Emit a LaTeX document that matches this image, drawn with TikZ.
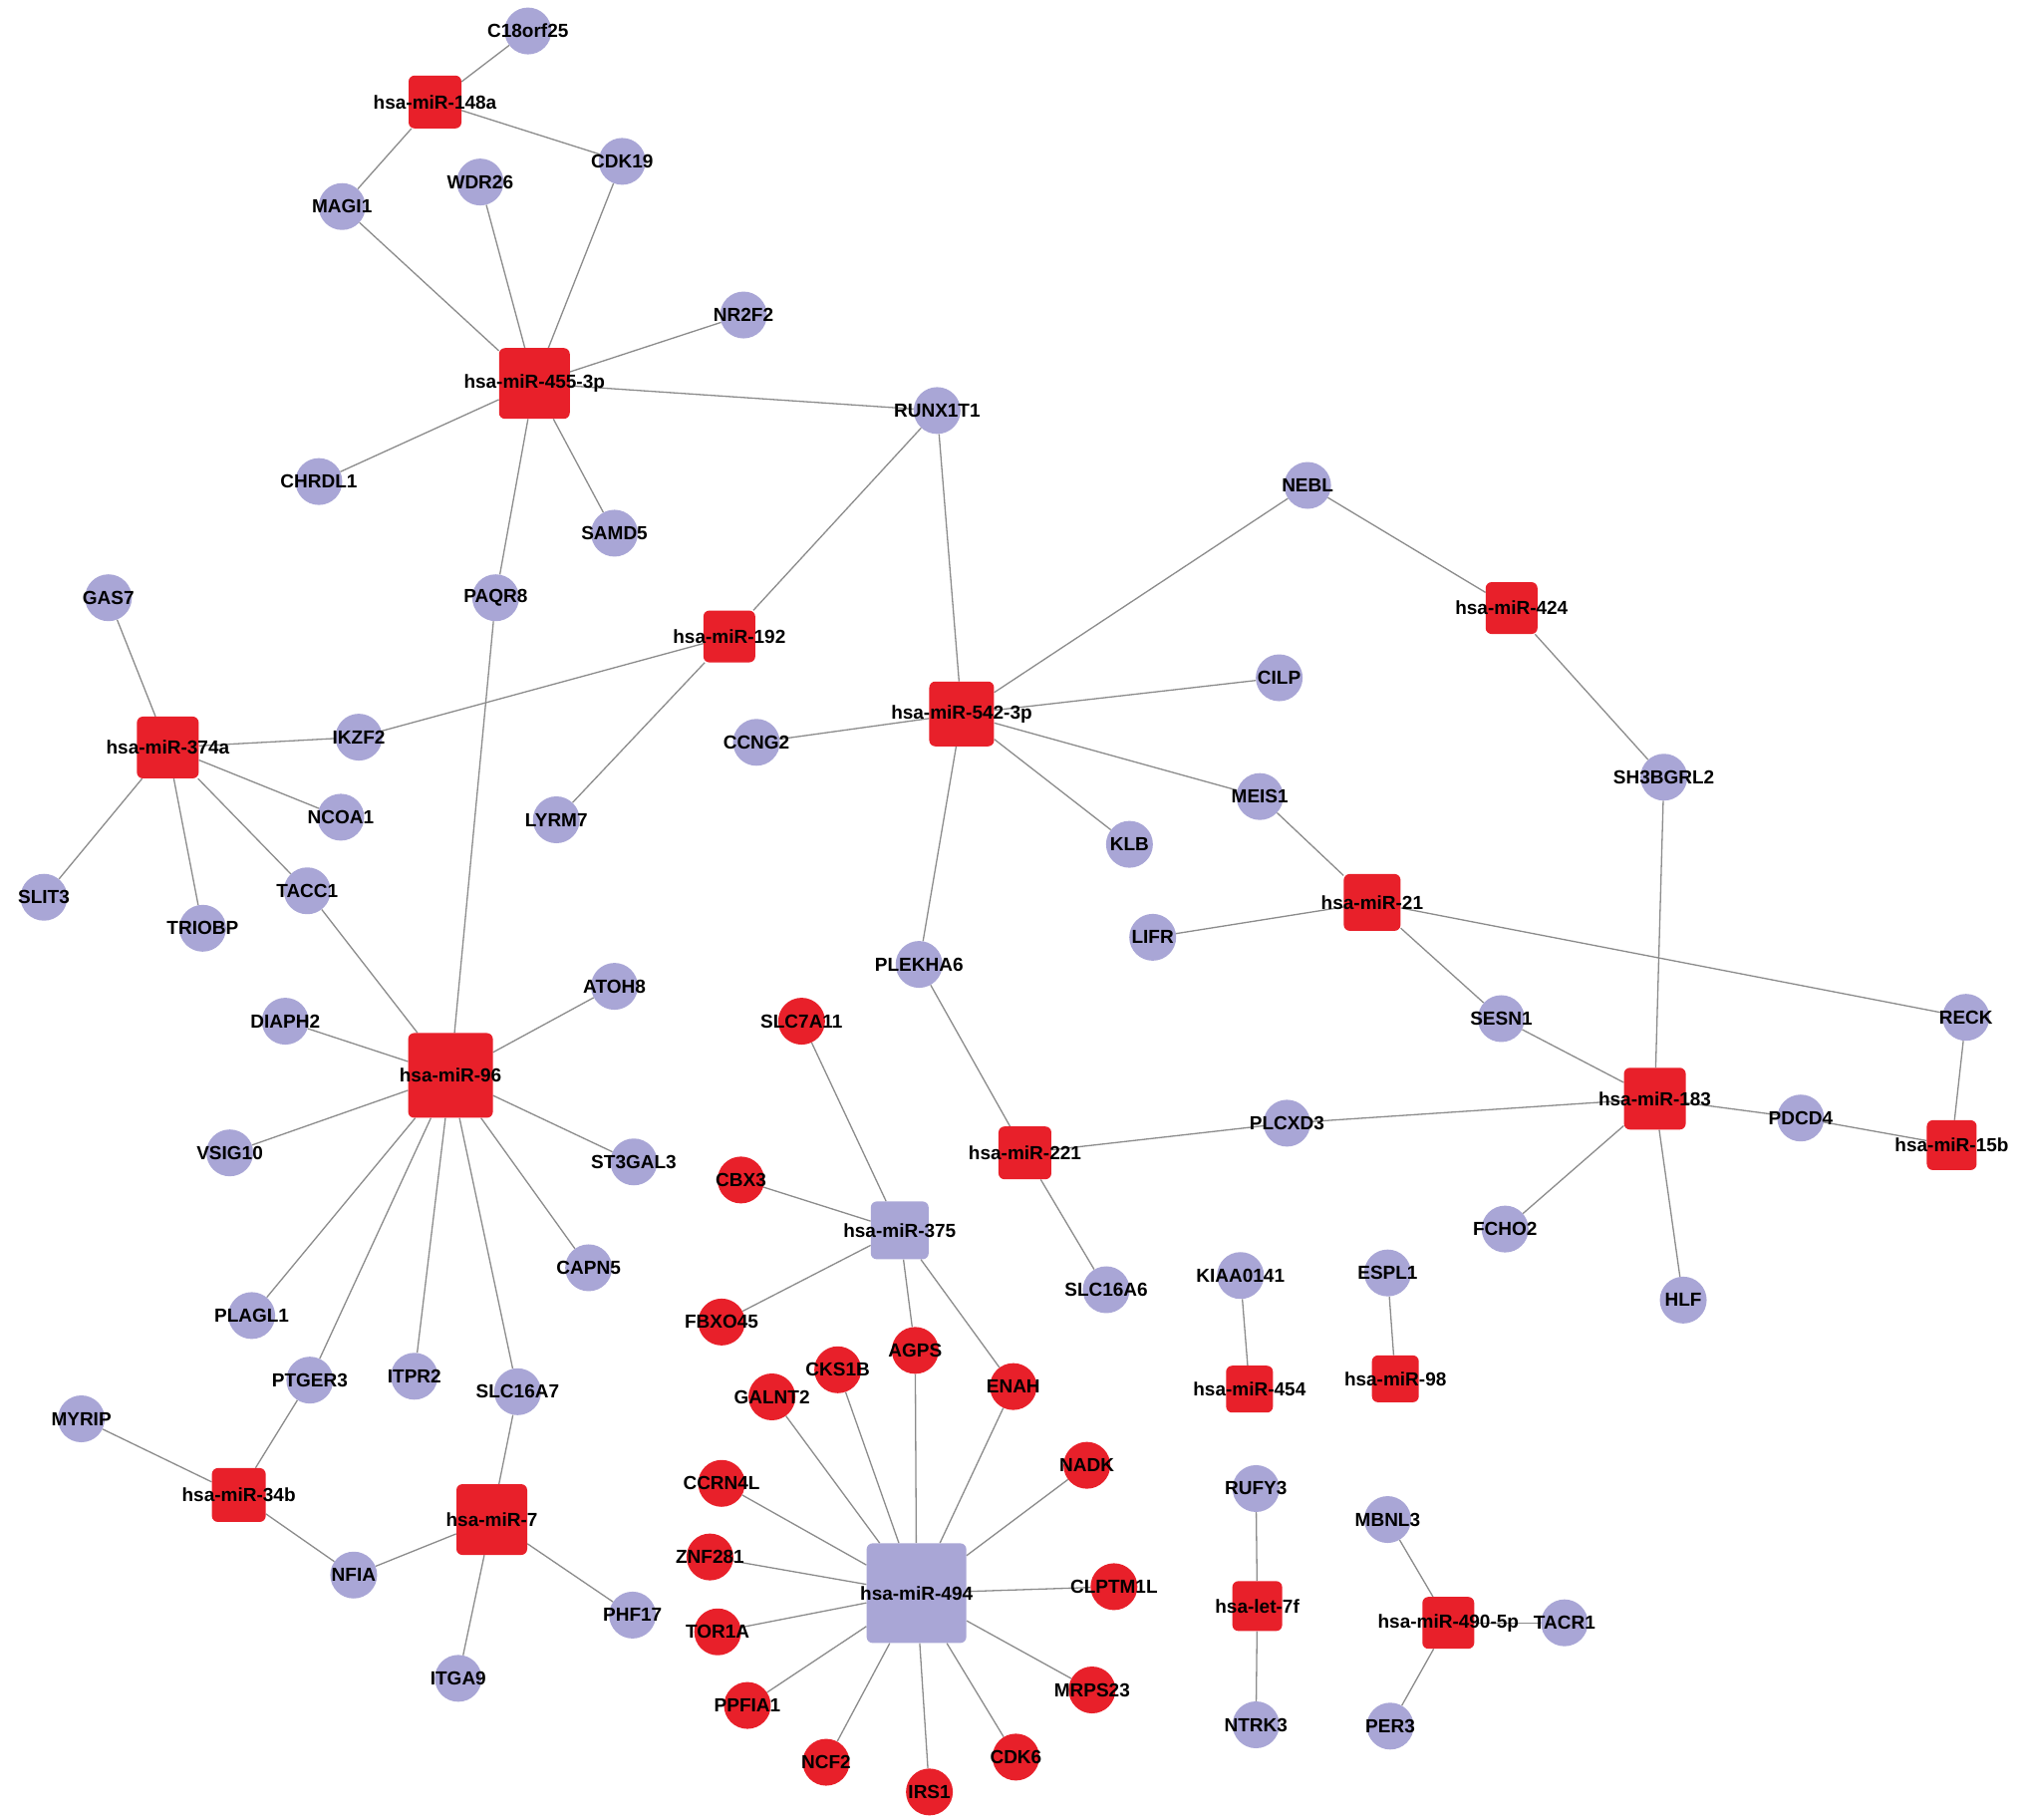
\documentclass[tikz,border=0pt]{standalone}
\usepackage{fontspec}
\setmainfont{Liberation Sans}
\usetikzlibrary{backgrounds}
\definecolor{mired}{HTML}{E8202A}
\definecolor{lav}{HTML}{A9A6D6}
\definecolor{edgegray}{HTML}{8C8C8C}
\begin{document}
\begin{tikzpicture}[x=1.2953pt,y=-1.2953pt,
  lab/.style={font=\fontsize{19}{19}\selectfont\bfseries,text=black,inner sep=0pt},
  gene/.style={circle,fill=lav,minimum size=47pt,inner sep=0pt,label={[lab]center:#1}},
  rgene/.style={circle,fill=mired,minimum size=47pt,inner sep=0pt,label={[lab]center:#1}},
  mir/.style={rectangle,rounded corners=6pt,fill=mired,inner sep=0pt,label={[lab]center:#1}},
  lmir/.style={rectangle,rounded corners=6pt,fill=lav,inner sep=0pt,label={[lab]center:#1}},
  link/.style={draw=edgegray,line width=1.3pt}]
\useasboundingbox (0,0) rectangle (1568,1409);
% miRNA squares
\node[mir=hsa-miR-148a,minimum size=53pt] (m148a) at (337,79) {};
\node[mir=hsa-miR-455-3p,minimum size=71pt] (m455) at (414,297) {};
\node[mir=hsa-miR-192,minimum size=52pt] (m192) at (565,493) {};
\node[mir=hsa-miR-374a,minimum size=62pt] (m374a) at (130,579) {};
\node[mir=hsa-miR-542-3p,minimum size=65pt] (m542) at (745,553) {};
\node[mir=hsa-miR-424,minimum size=52pt] (m424) at (1171,471) {};
\node[mir=hsa-miR-21,minimum size=57pt] (m21) at (1063,699) {};
\node[mir=hsa-miR-96,minimum size=85pt] (m96) at (349,833) {};
\node[mir=hsa-miR-183,minimum size=62pt] (m183) at (1282,851) {};
\node[mir=hsa-miR-15b,minimum size=50pt] (m15b) at (1512,887) {};
\node[mir=hsa-miR-221,minimum size=53pt] (m221) at (794,893) {};
\node[lmir=hsa-miR-375,minimum size=58pt] (m375) at (697,953) {};
\node[mir=hsa-miR-454,minimum size=47pt] (m454) at (968,1076) {};
\node[mir=hsa-miR-98,minimum size=47pt] (m98) at (1081,1068) {};
\node[mir=hsa-miR-34b,minimum size=54pt] (m34b) at (185,1158) {};
\node[mir=hsa-miR-7,minimum size=71pt] (m7) at (381,1177) {};
\node[lmir=hsa-miR-494,minimum size=100pt] (m494) at (710,1234) {};
\node[mir=hsa-let-7f,minimum size=50pt] (let7f) at (974,1244) {};
\node[mir=hsa-miR-490-5p,minimum size=52pt] (m490) at (1122,1257) {};
% genes (lavender)
\node[gene=C18orf25] (c18) at (409,24) {};
\node[gene=CDK19] (cdk19) at (482,125) {};
\node[gene=MAGI1] (magi1) at (265,160) {};
\node[gene=WDR26] (wdr26) at (372,141) {};
\node[gene=NR2F2] (nr2f2) at (576,244) {};
\node[gene=RUNX1T1] (runx) at (726,318) {};
\node[gene=CHRDL1] (chrdl1) at (247,373) {};
\node[gene=SAMD5] (samd5) at (476,413) {};
\node[gene=NEBL] (nebl) at (1013,376) {};
\node[gene=PAQR8] (paqr8) at (384,463) {};
\node[gene=GAS7] (gas7) at (84,463) {};
\node[gene=IKZF2] (ikzf2) at (278,571) {};
\node[gene=CILP] (cilp) at (991,525) {};
\node[gene=CCNG2] (ccng2) at (586,575) {};
\node[gene=SH3BGRL2] (sh3) at (1289,602) {};
\node[gene=NCOA1] (ncoa1) at (264,633) {};
\node[gene=LYRM7] (lyrm7) at (431,635) {};
\node[gene=MEIS1] (meis1) at (976,617) {};
\node[gene=KLB] (klb) at (875,654) {};
\node[gene=SLIT3] (slit3) at (34,695) {};
\node[gene=TACC1] (tacc1) at (238,690) {};
\node[gene=TRIOBP] (triobp) at (157,719) {};
\node[gene=LIFR] (lifr) at (893,726) {};
\node[gene=PLEKHA6] (plekha6) at (712,747) {};
\node[gene=ATOH8] (atoh8) at (476,764) {};
\node[gene=DIAPH2] (diaph2) at (221,791) {};
\node[gene=RECK] (reck) at (1523,788) {};
\node[gene=SESN1] (sesn1) at (1163,789) {};
\node[gene=PDCD4] (pdcd4) at (1395,866) {};
\node[gene=PLCXD3] (plcxd3) at (997,870) {};
\node[gene=VSIG10] (vsig10) at (178,893) {};
\node[gene=ST3GAL3] (st3gal3) at (491,900) {};
\node[gene=FCHO2] (fcho2) at (1166,952) {};
\node[gene=CAPN5] (capn5) at (456,982) {};
\node[gene=SLC16A6] (slc16a6) at (857,999) {};
\node[gene=KIAA0141] (kiaa) at (961,988) {};
\node[gene=ESPL1] (espl1) at (1075,986) {};
\node[gene=HLF] (hlf) at (1304,1007) {};
\node[gene=PLAGL1] (plagl1) at (195,1019) {};
\node[gene=PTGER3] (ptger3) at (240,1069) {};
\node[gene=ITPR2] (itpr2) at (321,1066) {};
\node[gene=SLC16A7] (slc16a7) at (401,1078) {};
\node[gene=MYRIP] (myrip) at (63,1099) {};
\node[gene=NFIA] (nfia) at (274,1220) {};
\node[gene=PHF17] (phf17) at (490,1251) {};
\node[gene=ITGA9] (itga9) at (355,1300) {};
\node[gene=RUFY3] (rufy3) at (973,1153) {};
\node[gene=MBNL3] (mbnl3) at (1075,1177) {};
\node[gene=TACR1] (tacr1) at (1212,1257) {};
\node[gene=NTRK3] (ntrk3) at (973,1336) {};
\node[gene=PER3] (per3) at (1077,1337) {};
% genes (red)
\node[rgene=SLC7A11] (slc7a11) at (621,791) {};
\node[rgene=CBX3] (cbx3) at (574,914) {};
\node[rgene=FBXO45] (fbxo45) at (559,1024) {};
\node[rgene=AGPS] (agps) at (709,1046) {};
\node[rgene=CKS1B] (cks1b) at (649,1061) {};
\node[rgene=ENAH] (enah) at (785,1074) {};
\node[rgene=GALNT2] (galnt2) at (598,1082) {};
\node[rgene=NADK] (nadk) at (842,1135) {};
\node[rgene=CCRN4L] (ccrn4l) at (559,1149) {};
\node[rgene=ZNF281] (znf281) at (550,1206) {};
\node[rgene=CLPTM1L] (clptm1l) at (863,1229) {};
\node[rgene=TOR1A] (tor1a) at (556,1264) {};
\node[rgene=MRPS23] (mrps23) at (846,1309) {};
\node[rgene=PPFIA1] (ppfia1) at (579,1321) {};
\node[rgene=NCF2] (ncf2) at (640,1365) {};
\node[rgene=CDK6] (cdk6) at (787,1361) {};
\node[rgene=IRS1] (irs1) at (720,1388) {};
% edges
\begin{scope}[on background layer]
\fill[white] (0,0) rectangle (1568,1409);
\foreach \a/\b in {m148a/c18,m148a/cdk19,m148a/magi1,
  m455/magi1,m455/wdr26,m455/cdk19,m455/nr2f2,m455/runx,m455/chrdl1,m455/samd5,m455/paqr8,
  m192/runx,m192/ikzf2,m192/lyrm7,
  m542/runx,m542/nebl,m542/cilp,m542/ccng2,m542/meis1,m542/klb,m542/plekha6,
  m424/nebl,m424/sh3,
  m374a/gas7,m374a/ikzf2,m374a/ncoa1,m374a/tacc1,m374a/triobp,m374a/slit3,
  m21/meis1,m21/lifr,m21/sesn1,m21/reck,
  m183/sh3,m183/sesn1,m183/plcxd3,m183/pdcd4,m183/fcho2,m183/hlf,
  m15b/pdcd4,m15b/reck,
  m221/plekha6,m221/plcxd3,m221/slc16a6,
  m96/paqr8,m96/tacc1,m96/atoh8,m96/diaph2,m96/vsig10,m96/st3gal3,m96/capn5,m96/plagl1,m96/ptger3,m96/itpr2,m96/slc16a7,
  m375/slc7a11,m375/cbx3,m375/fbxo45,m375/agps,m375/enah,
  m454/kiaa,m98/espl1,
  m34b/myrip,m34b/ptger3,m34b/nfia,
  m7/slc16a7,m7/nfia,m7/phf17,m7/itga9,
  m494/agps,m494/cks1b,m494/galnt2,m494/enah,m494/nadk,m494/ccrn4l,m494/znf281,m494/clptm1l,m494/tor1a,m494/mrps23,m494/ppfia1,m494/ncf2,m494/cdk6,m494/irs1,
  let7f/rufy3,let7f/ntrk3,
  m490/mbnl3,m490/tacr1,m490/per3}
  {\draw[link] (\a) -- (\b);}
\end{scope}
\end{tikzpicture}
\end{document}
